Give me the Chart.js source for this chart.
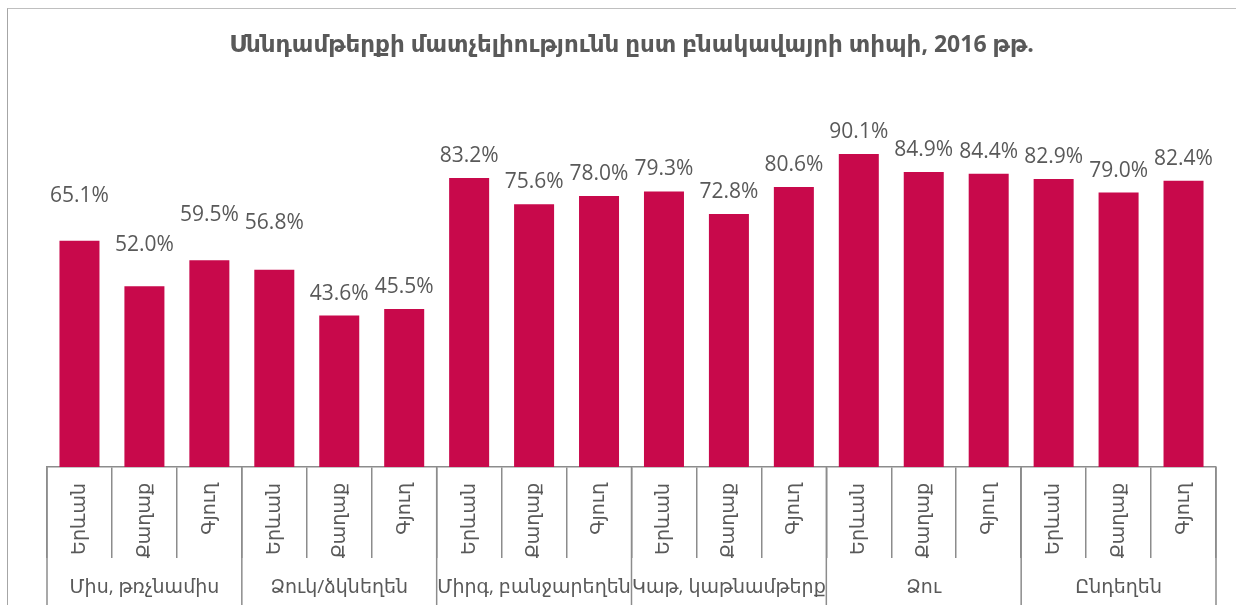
<!DOCTYPE html>
<html>
<head>
<meta charset="utf-8">
<script src="https://cdn.jsdelivr.net/npm/chart.js@4"></script>
<style>
    html, body { margin: 0; padding: 0; background: #fff; overflow: hidden; }
    .frame {
        position: absolute;
        left: 7px;
        top: 8px;
        width: 1242px;
        height: 600px;
        border-top: 1px solid #bfbfbf;
        border-left: 1px solid #a6a6a6;
    }
</style>
</head>
<body>
<div class="frame"><canvas id="accessChart"></canvas></div>
<script>
const groups = ['Միս, թռչնամիս', 'Ձուկ/ձկնեղեն', 'Միրգ, բանջարեղեն', 'Կաթ, կաթնամթերք', 'Ձու', 'Ընդեղեն'];
const places = ['Երևան', 'Քաղաք', 'Գյուղ'];
const values = [65.1, 52.0, 59.5, 56.8, 43.6, 45.5, 83.2, 75.6, 78.0, 79.3, 72.8, 80.6, 90.1, 84.9, 84.4, 82.9, 79.0, 82.4];

const textColor = '#595959';
const lineColor = '#8c8c8c';
const fontStack = "'Open Sans', 'DejaVu Sans', sans-serif";

// extra lift for the first few value labels, which sit higher above their bars
const labelLift = [23, 19, 23, 25];

const valueLabels = {
    id: 'valueLabels',
    afterDatasetsDraw(chart) {
        const ctx = chart.ctx;
        const meta = chart.getDatasetMeta(0);
        ctx.save();
        ctx.font = '21px ' + fontStack;
        ctx.fillStyle = textColor;
        ctx.textAlign = 'center';
        ctx.textBaseline = 'middle';
        meta.data.forEach((bar, i) => {
            const v = chart.data.datasets[0].data[i];
            ctx.fillText(v.toFixed(1) + '%', bar.x, bar.y - 22 - (labelLift[i] || 0));
        });
        ctx.restore();
    }
};

// second level of the category axis: group separators and group names
const groupAxis = {
    id: 'groupAxis',
    afterDraw(chart) {
        const ctx = chart.ctx;
        const x = chart.scales.x;
        const step = x.getPixelForValue(1) - x.getPixelForValue(0);
        const top = chart.chartArea.bottom;
        ctx.save();
        ctx.strokeStyle = lineColor;
        ctx.lineWidth = 1.5;
        ctx.font = '19px ' + fontStack;
        ctx.fillStyle = textColor;
        ctx.textAlign = 'center';
        ctx.textBaseline = 'middle';
        groups.forEach((g, gi) => {
            const first = gi * places.length;
            const left = x.getPixelForValue(first) - step / 2;
            const right = x.getPixelForValue(first + places.length - 1) + step / 2;
            ctx.beginPath();
            ctx.moveTo(left, top);
            ctx.lineTo(left, chart.height);
            if (gi === groups.length - 1) {
                ctx.moveTo(right, top);
                ctx.lineTo(right, chart.height);
            }
            ctx.stroke();
            ctx.fillText(g, (left + right) / 2, 579);
        });
        ctx.restore();
    }
};

const ctxAccess = document.getElementById('accessChart').getContext('2d');
new Chart(ctxAccess, {
    type: 'bar',
    data: {
        labels: groups.flatMap(() => places),
        datasets: [{
            data: values,
            backgroundColor: '#c8094b',
            categoryPercentage: 1,
            barPercentage: 0.616
        }]
    },
    options: {
        responsive: true,
        maintainAspectRatio: false,
        animation: false,
        layout: {
            padding: { left: 39, right: 34, top: 0, bottom: 2 }
        },
        plugins: {
            legend: { display: false },
            tooltip: { enabled: false },
            title: {
                display: true,
                text: 'Սննդամթերքի մատչելիությունն ըստ բնակավայրի տիպի, 2016 թթ.',
                color: textColor,
                font: { family: fontStack, size: 23, weight: 'bold' },
                padding: { top: 23, bottom: 60 }
            }
        },
        scales: {
            x: {
                afterFit: (scale) => { scale.height = 140; },
                grid: {
                    offset: true,
                    drawOnChartArea: false,
                    tickLength: 91,
                    color: lineColor,
                    lineWidth: 1.5
                },
                border: { color: lineColor, width: 1.5 },
                ticks: {
                    autoSkip: false,
                    minRotation: 90,
                    maxRotation: 90,
                    padding: -75,
                    color: textColor,
                    font: { family: fontStack, size: 19 }
                }
            },
            y: {
                display: false,
                min: 0,
                max: 100
            }
        }
    },
    plugins: [valueLabels, groupAxis]
});
</script>
</body>
</html>
